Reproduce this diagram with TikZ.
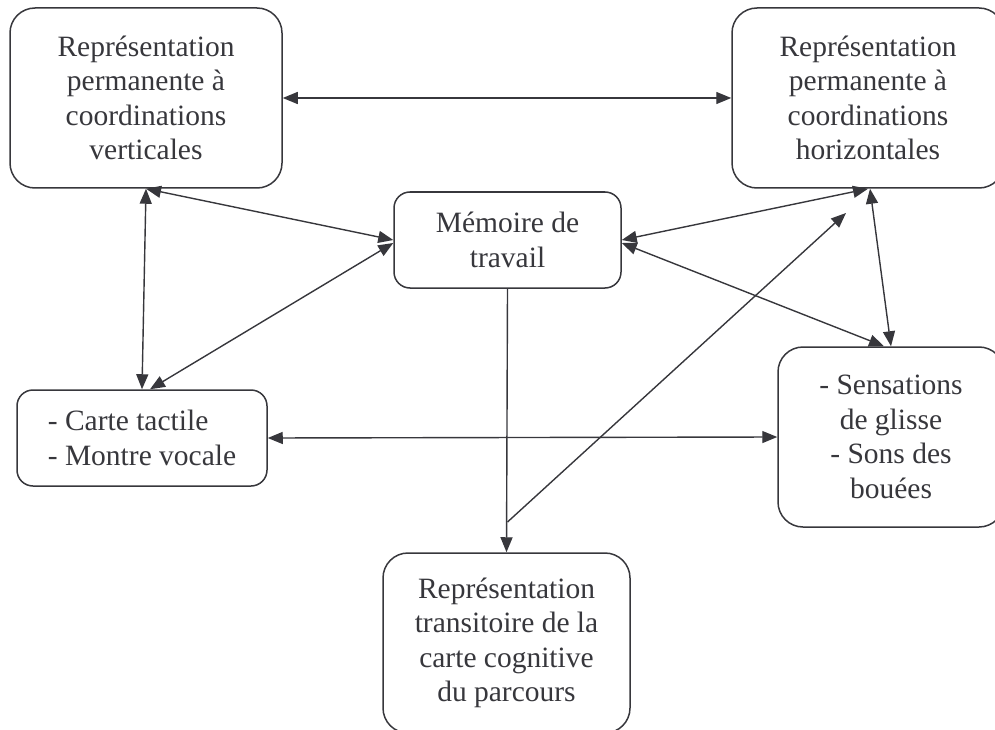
\documentclass[tikz,border=0pt]{standalone}
\usepackage{fontspec}
\setmainfont{Liberation Serif}
\usetikzlibrary{arrows.meta,positioning,calc}
\definecolor{ink}{RGB}{55,55,60}
\tikzset{
  box/.style={draw=ink, text=ink, line width=1.5pt, rounded corners=#1, align=center,
    inner sep=0pt, font=\fontsize{29.5}{34.5}\selectfont},
  box/.default=16pt,
  bigbox/.style={box=25pt, minimum width=272pt, minimum height=180pt},
  smallbox/.style={box, minimum height=96pt},
  link/.style={draw=ink, line width=1.4pt},
}

\begin{document}
\begin{tikzpicture}[x=1pt, y=-1pt, >={Triangle[length=15pt,width=12pt]}]
    \useasboundingbox (0,0) rectangle (995,730);
    % boxes
    \node[bigbox] (repv) at (146,98) {Représentation\\permanente à\\coordinations\\verticales};
    \node[bigbox] (reph) at (868,98) {Représentation\\permanente à\\coordinations\\horizontales};
    \node[smallbox, minimum width=227pt] (mem) at (507.5,240) {Mémoire de\\travail};
    \node[smallbox, minimum width=250pt, align=left] (carte) at (142,438) {- Carte tactile\\- Montre vocale};
    \node[bigbox, minimum width=226pt] (sens) at (891,437) {- Sensations\\de glisse\\- Sons des\\bouées};
    \node[bigbox, minimum width=247pt] (trans) at (506.5,643) {Représentation\\transitoire de la\\carte cognitive\\du parcours};
    % connectors
    \draw[link, <->] (repv.east) -- (reph.west);
    \draw[link, <->] (repv.south) -- (mem.west);
    \draw[link, <->] (repv.south) -- (carte.north);
    \draw[link, <->] ([xshift=8pt]carte.north) -- ([yshift=-3pt]mem.west);
    \draw[link, <->] (mem.east) -- (reph.south);
    \draw[link, <->] ([yshift=-3pt]mem.east) -- ([xshift=-7pt]sens.north);
    \draw[link, <->] ([xshift=2pt]reph.south) -- (sens.north);
    \draw[link, ->] (mem.south) -- (trans.north);
    \coordinate (fork) at (507.5,522);
    \coordinate (aim) at (846,213);
    \draw[link, ->] (fork) -- (aim);
    \draw[link, <->] (carte.east) -- (sens.west);
\end{tikzpicture}
\end{document}
